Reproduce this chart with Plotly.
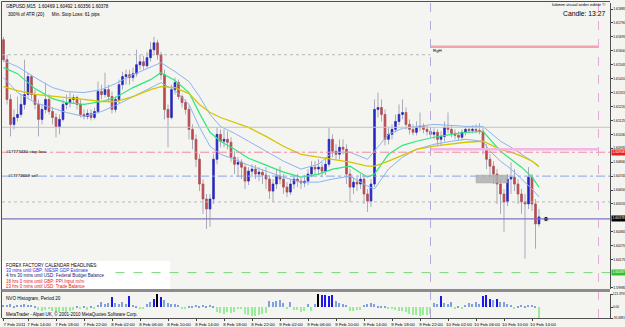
import plotly.graph_objects as go
import pandas as pd

# ---------------- data ----------------
bar_start = "2011-02-07 10:30"
bar_freq = "30min"

open_ = [
    1.61675, 1.61539, 1.61268, 1.61098, 1.61145, 1.61166, 1.61234, 1.61302, 1.61424, 1.61302,
    1.61234, 1.61132, 1.61200, 1.61268, 1.61186, 1.61145, 1.61084, 1.61132, 1.61234, 1.61247,
    1.61268, 1.61281, 1.61234, 1.61166, 1.61152, 1.61173, 1.61145, 1.61186, 1.61322, 1.61302,
    1.61335, 1.61288, 1.61200, 1.61268, 1.61369, 1.61424, 1.61437, 1.61417, 1.61444, 1.61505,
    1.61525, 1.61498, 1.61553, 1.61607, 1.61654, 1.61573, 1.61437, 1.61200, 1.61145, 1.61335,
    1.61383, 1.61288, 1.61247, 1.61200, 1.61064, 1.60996, 1.60860, 1.60691, 1.60589, 1.60521,
    1.60589, 1.60860, 1.61030, 1.60983, 1.60996, 1.60976, 1.60874, 1.60826, 1.60840, 1.60806,
    1.60711, 1.60779, 1.60793, 1.60759, 1.60772, 1.60752, 1.60725, 1.60643, 1.60691, 1.60745,
    1.60725, 1.60670, 1.60636, 1.60691, 1.60725, 1.60711, 1.60698, 1.60711, 1.60759, 1.60806,
    1.60793, 1.60806, 1.60779, 1.60826, 1.60996, 1.60915, 1.60894, 1.60942, 1.60928, 1.60759,
    1.60670, 1.60704, 1.60691, 1.60725, 1.60623, 1.60575, 1.60691, 1.61200, 1.61213, 1.61166,
    1.60996, 1.61030, 1.61064, 1.61118, 1.61166, 1.61179, 1.61098, 1.61064, 1.61044, 1.61078,
    1.61084, 1.61064, 1.61050, 1.61030, 1.61044, 1.60996, 1.61016, 1.61078, 1.61064, 1.61037,
    1.61023, 1.61010, 1.61044, 1.61064, 1.61057, 1.61064, 1.61057, 1.61050, 1.60928, 1.60860,
    1.60813, 1.60759, 1.60691, 1.60623, 1.60569, 1.60725, 1.60738, 1.60691, 1.60623, 1.60569,
    1.60555, 1.60738, 1.60555, 1.60419,
]
high_ = [
    1.61695, 1.61573, 1.61302, 1.61200, 1.61288, 1.61302, 1.61539, 1.61451, 1.61437, 1.61335,
    1.61268, 1.61234, 1.61383, 1.61302, 1.61213, 1.61173, 1.61166, 1.61268, 1.61302, 1.61315,
    1.61302, 1.61295, 1.61268, 1.61200, 1.61200, 1.61200, 1.61213, 1.61390, 1.61369, 1.61451,
    1.61369, 1.61322, 1.61288, 1.61403, 1.61458, 1.61471, 1.61471, 1.61485, 1.61607, 1.61573,
    1.61566, 1.61593, 1.61661, 1.61695, 1.61675, 1.61593, 1.61471, 1.61234, 1.61369, 1.61417,
    1.61403, 1.61302, 1.61268, 1.61227, 1.61098, 1.61030, 1.60894, 1.60725, 1.60623, 1.60623,
    1.60894, 1.61078, 1.61064, 1.61064, 1.61050, 1.61010, 1.60915, 1.60874, 1.60860, 1.60826,
    1.60806, 1.60826, 1.60820, 1.60806, 1.60793, 1.60806, 1.60752, 1.60725, 1.60793, 1.60813,
    1.60759, 1.60704, 1.60725, 1.60752, 1.60759, 1.60738, 1.60752, 1.60793, 1.60847, 1.60847,
    1.60860, 1.60840, 1.60874, 1.61078, 1.61030, 1.60962, 1.60996, 1.60996, 1.60962, 1.60793,
    1.60738, 1.60738, 1.60759, 1.60752, 1.60657, 1.60725, 1.61268, 1.61315, 1.61268, 1.61200,
    1.61078, 1.61098, 1.61166, 1.61234, 1.61268, 1.61213, 1.61132, 1.61098, 1.61118, 1.61179,
    1.61105, 1.61091, 1.61078, 1.61071, 1.61064, 1.61050, 1.61118, 1.61179, 1.61091, 1.61064,
    1.61050, 1.61064, 1.61084, 1.61084, 1.61091, 1.61098, 1.61105, 1.61078, 1.60962, 1.60894,
    1.60847, 1.60793, 1.60725, 1.60657, 1.60759, 1.60840, 1.60793, 1.60725, 1.60657, 1.60623,
    1.60806, 1.60759, 1.60589, 1.60521,
]
low_ = [
    1.61525, 1.61234, 1.61016, 1.61064, 1.61118, 1.61145, 1.61200, 1.61281, 1.61268, 1.61200,
    1.61016, 1.61098, 1.61173, 1.61166, 1.61098, 1.61010, 1.61030, 1.61118, 1.61200, 1.61213,
    1.61240, 1.61200, 1.61145, 1.61132, 1.61132, 1.61125, 1.61132, 1.61173, 1.61268, 1.61281,
    1.61247, 1.61173, 1.61179, 1.61240, 1.61335, 1.61369, 1.61369, 1.61390, 1.61424, 1.61471,
    1.61471, 1.61485, 1.61525, 1.61573, 1.61539, 1.61403, 1.61132, 1.60942, 1.61132, 1.61302,
    1.61268, 1.61213, 1.61166, 1.60996, 1.60928, 1.60806, 1.60643, 1.60487, 1.60385, 1.60399,
    1.60555, 1.60826, 1.60942, 1.60942, 1.60928, 1.60840, 1.60759, 1.60738, 1.60725, 1.60657,
    1.60684, 1.60738, 1.60725, 1.60711, 1.60691, 1.60657, 1.60589, 1.60569, 1.60657, 1.60691,
    1.60623, 1.60603, 1.60616, 1.60657, 1.60670, 1.60657, 1.60670, 1.60684, 1.60738, 1.60752,
    1.60752, 1.60738, 1.60752, 1.60806, 1.60874, 1.60860, 1.60860, 1.60894, 1.60691, 1.60569,
    1.60623, 1.60643, 1.60657, 1.60555, 1.60501, 1.60535, 1.60670, 1.61145, 1.61118, 1.60955,
    1.60962, 1.60996, 1.61044, 1.61091, 1.61132, 1.61064, 1.61030, 1.61023, 1.61023, 1.61050,
    1.61037, 1.61023, 1.61010, 1.60996, 1.60955, 1.60949, 1.60983, 1.61037, 1.61010, 1.60996,
    1.60989, 1.60989, 1.61023, 1.61037, 1.61037, 1.61037, 1.61030, 1.60894, 1.60793, 1.60738,
    1.60691, 1.60555, 1.60487, 1.60365, 1.60541, 1.60623, 1.60643, 1.60555, 1.60487, 1.60182,
    1.60521, 1.60508, 1.60250, 1.60399,
]
close_ = [
    1.61539, 1.61268, 1.61098, 1.61145, 1.61166, 1.61234, 1.61302, 1.61424, 1.61302, 1.61234,
    1.61132, 1.61200, 1.61268, 1.61186, 1.61145, 1.61084, 1.61132, 1.61234, 1.61247, 1.61268,
    1.61281, 1.61234, 1.61166, 1.61152, 1.61173, 1.61145, 1.61186, 1.61322, 1.61302, 1.61335,
    1.61288, 1.61200, 1.61268, 1.61369, 1.61424, 1.61437, 1.61417, 1.61444, 1.61505, 1.61525,
    1.61498, 1.61553, 1.61607, 1.61654, 1.61573, 1.61437, 1.61200, 1.61145, 1.61335, 1.61383,
    1.61288, 1.61247, 1.61200, 1.61064, 1.60996, 1.60860, 1.60691, 1.60589, 1.60521, 1.60589,
    1.60860, 1.61030, 1.60983, 1.60996, 1.60976, 1.60874, 1.60826, 1.60840, 1.60806, 1.60711,
    1.60779, 1.60793, 1.60759, 1.60772, 1.60752, 1.60725, 1.60643, 1.60691, 1.60745, 1.60725,
    1.60670, 1.60636, 1.60691, 1.60725, 1.60711, 1.60698, 1.60711, 1.60759, 1.60806, 1.60793,
    1.60806, 1.60779, 1.60826, 1.60996, 1.60915, 1.60894, 1.60942, 1.60928, 1.60759, 1.60670,
    1.60704, 1.60691, 1.60725, 1.60623, 1.60575, 1.60691, 1.61200, 1.61213, 1.61166, 1.60996,
    1.61030, 1.61064, 1.61118, 1.61166, 1.61179, 1.61098, 1.61064, 1.61044, 1.61078, 1.61084,
    1.61064, 1.61050, 1.61030, 1.61044, 1.60996, 1.61016, 1.61078, 1.61064, 1.61037, 1.61023,
    1.61010, 1.61044, 1.61064, 1.61057, 1.61064, 1.61057, 1.61050, 1.60928, 1.60860, 1.60813,
    1.60759, 1.60691, 1.60623, 1.60569, 1.60725, 1.60738, 1.60691, 1.60623, 1.60569, 1.60555,
    1.60738, 1.60555, 1.60419, 1.60467,
]

# moving averages / bands, sampled at these bar indices
ma_idx = [0, 4, 9, 14, 18, 23, 28, 32, 37, 42, 45, 49, 53, 56, 59, 62, 66, 70, 75, 80,
          85, 90, 94, 99, 104, 106, 110, 114, 118, 123, 128, 132, 137, 139, 142, 145, 148, 151, 153]
ma_slow = [1.61356, 1.61329, 1.61302, 1.61288, 1.61281, 1.61268, 1.61254, 1.61254, 1.61288, 1.61335,
           1.61356, 1.61349, 1.61308, 1.61234, 1.61179, 1.61145, 1.61112, 1.61078, 1.61016, 1.60949,
           1.60894, 1.60874, 1.60860, 1.60840, 1.60813, 1.60813, 1.60847, 1.60888, 1.60928, 1.60949,
           1.60962, 1.60976, 1.60983, 1.60962, 1.60928, 1.60908, 1.60881, 1.60847, 1.60813]
ma_mid = [1.61485, 1.61444, 1.61342, 1.61274, 1.61247, 1.61234, 1.61254, 1.61281, 1.61349, 1.61403,
          1.61451, 1.61397, 1.61315, 1.61173, 1.61044, 1.60983, 1.60928, 1.60867, 1.60820, 1.60772,
          1.60738, 1.60759, 1.60793, 1.60813, 1.60738, 1.60759, 1.60894, 1.60955, 1.60983, 1.61010,
          1.61030, 1.61044, 1.61050, 1.60996, 1.60915, 1.60860, 1.60806, 1.60738, 1.60670]
band_up = [1.61532, 1.61492, 1.61417, 1.61349, 1.61322, 1.61315, 1.61335, 1.61376, 1.61437, 1.61485,
           1.61519, 1.61458, 1.61390, 1.61288, 1.61166, 1.61084, 1.61037, 1.60983, 1.60915, 1.60847,
           1.60793, 1.60826, 1.60908, 1.60908, 1.60860, 1.60915, 1.61030, 1.61071, 1.61084, 1.61098,
           1.61091, 1.61084, 1.61084, 1.61044, 1.60983, 1.60942, 1.60894, 1.60847, 1.60806]
band_dn = [1.61417, 1.61315, 1.61247, 1.61207, 1.61179, 1.61152, 1.61186, 1.61227, 1.61288, 1.61349,
           1.61383, 1.61329, 1.61234, 1.61078, 1.60949, 1.60894, 1.60860, 1.60820, 1.60779, 1.60738,
           1.60704, 1.60704, 1.60725, 1.60745, 1.60677, 1.60657, 1.60793, 1.60874, 1.60928, 1.60962,
           1.60983, 1.60996, 1.60983, 1.60915, 1.60847, 1.60793, 1.60725, 1.60657, 1.60603]

# NVO histogram
nvo = [
    25, 20, 30, 5, 20, 25, 30, 20, 25, 15,
    -20, -30, -25, -10, -35, -45, -40, -30, -45, -35,
    -20, 10, -15, 10, -20, 10, -10, 20, 45, 30,
    40, 95, 40, 30, 45, 35, 100, 20, 15, -15,
    -10, 30, 50, 80, 118, 95, 70, 40, 30, 35,
    25, -10, -15, 5, 15, 20, 10, 20, 15, 25,
    10, -45, -50, -55, -45, -50, -40, -15, -10, -60,
    -70, -75, -80, -70, -60, -50, 60, 45, 55, 70,
    40, -15, 50, -20, -25, -40, -35, 30, -30, 35,
    121.3791, 110, 112, 105, 110, 60, 40, 35, 20, -30,
    -35, -25, -20, 25, 35, 40, 30, 15, 10, 15,
    -15, -10, -25, -30, -35, -45, -55, -65, -70, -75,
    -65, -70, -60, 40, 30, 105, 40, 35, 45, -10,
    15, -10, 20, 40, 35, 45, 30, 100, 110, 80,
    65, 75, 50, 45, 35, 20, -10, 15, 25, 10,
    20, 25, 15, -95.6891,
]
nvo_min, nvo_max = -95.6891, 121.3791

# axes (tick labels hidden behind the price boxes are left out)
price_ticks = [1.59985, 1.60175, 1.60270, 1.60365, 1.60555, 1.60650, 1.60745,
               1.60840, 1.60935, 1.61030, 1.61125, 1.61220, 1.61315, 1.61410, 1.61505, 1.61600,
               1.61695, 1.61790, 1.61885]
price_range = [1.59975, 1.61926]
time_range = ["2011-02-07 10:17:09", "2011-02-11 01:08:34"]
time_ticks = ["2011-02-07 10:30", "2011-02-07 14:00", "2011-02-07 18:00", "2011-02-07 22:00",
              "2011-02-08 02:00", "2011-02-08 06:00", "2011-02-08 10:00", "2011-02-08 14:00",
              "2011-02-08 18:00", "2011-02-08 22:00", "2011-02-09 02:00", "2011-02-09 06:00",
              "2011-02-09 10:00", "2011-02-09 14:00", "2011-02-09 18:00", "2011-02-09 22:00",
              "2011-02-10 02:00", "2011-02-10 06:00", "2011-02-10 10:00", "2011-02-10 14:00"]
time_labels = ["7 Feb 2011", "7 Feb 14:00", "7 Feb 18:00", "7 Feb 22:00", "8 Feb 02:00",
               "8 Feb 06:00", "8 Feb 10:00", "8 Feb 14:00", "8 Feb 18:00", "8 Feb 22:00",
               "9 Feb 02:00", "9 Feb 06:00", "9 Feb 10:00", "9 Feb 14:00", "9 Feb 18:00",
               "9 Feb 22:00", "10 Feb 02:00", "10 Feb 06:00", "10 Feb 10:00", "10 Feb 14:00"]

# order / level lines
sl_price = 1.60908
sell_price = 1.60745
tp_price = 1.60087
bid_price = 1.60453
level_solid = 1.61078
level_dot_hi = 1.61573
level_dot_lo = 1.60569
rgh_price = 1.61627
pink_price = 1.60928
day_lines = ["2011-02-09 23:30", "2011-02-10 23:30"]
tp_start = "2011-02-08 02:30"
box_times = ["2011-02-10 06:00", "2011-02-10 10:30"]
box_prices = [1.60698, 1.60752]
marker_time = "2011-02-10 16:00"

header = "GBPUSD,M15  1.60469 1.60492 1.60356 1.60378"
atr_text = "300% of ATR (20)      Min. Stop Loss: 61 pips"
bid_label = "1.60378"
calendar_lines = [
    ("FOREX FACTORY CALENDAR HEADLINES:", "#000000"),
    ("33 mins until GBP: NIESR GDP Estimate", "#2a2ad8"),
    ("4 hrs 30 mins until USD: Federal Budget Balance", "#20206a"),
    ("18 hrs 0 mins until GBP: PPI Input m/m", "#e02020"),
    ("23 hrs 0 mins until USD: Trade Balance", "#e02020"),
]

# ---------------- figure ----------------
W, H = 625, 327
def PX(x): return x / W
def PY(y): return 1 - y / H

bar_times = pd.date_range(bar_start, periods=len(close_), freq=bar_freq)
ma_times = [bar_times[i] for i in ma_idx]

FONT = "Liberation Sans"
BG = "#f4f4f1"
fig = go.Figure()

# wicks
fig.add_trace(go.Candlestick(
    x=bar_times, open=open_, high=high_, low=low_, close=close_,
    increasing=dict(line=dict(color="#a9a9b9", width=1), fillcolor="#a9a9b9"),
    decreasing=dict(line=dict(color="#a9a9b9", width=1), fillcolor="#a9a9b9"),
    whiskerwidth=0, showlegend=False, hoverinfo="skip", xaxis="x", yaxis="y"))
# bodies
body_hi = [max(o, c) for o, c in zip(open_, close_)]
body_lo = [min(o, c) for o, c in zip(open_, close_)]
fig.add_trace(go.Candlestick(
    x=bar_times, open=open_, high=body_hi, low=body_lo, close=close_,
    increasing=dict(line=dict(color="#2424c8", width=0.6), fillcolor="#2424c8"),
    decreasing=dict(line=dict(color="#c04848", width=0.6), fillcolor="#c04848"),
    whiskerwidth=0, showlegend=False, hoverinfo="skip", xaxis="x", yaxis="y"))

for vals, col, w in [(band_up, "#8cb4f0", 1), (band_dn, "#8cb4f0", 1),
                     (ma_mid, "#2ee87c", 1.2), (ma_slow, "#d6c600", 1.3)]:
    fig.add_trace(go.Scatter(x=ma_times, y=vals, mode="lines",
                             line=dict(color=col, width=w), showlegend=False,
                             hoverinfo="skip", xaxis="x", yaxis="y"))

# marker at current price
fig.add_trace(go.Scatter(x=[marker_time], y=[bid_price], mode="markers",
                         marker=dict(color="black", size=5, line=dict(color="white", width=1)),
                         showlegend=False, hoverinfo="skip", xaxis="x", yaxis="y"))

# histogram
def nvo_color(v):
    if v >= 115:
        return "#000000"
    if v >= 75:
        return "#1818e8"
    if v > 0:
        return "#7fa2dc"
    return "#98ee98"

fig.add_trace(go.Bar(x=bar_times, y=nvo, marker=dict(color=[nvo_color(v) for v in nvo], line=dict(width=0)),
                     width=1000000, showlegend=False, hoverinfo="skip", xaxis="x2", yaxis="y2"))

X0, X1 = PX(2), PX(610)
shapes = []
# calendar white box
shapes.append(dict(type="rect", xref="paper", yref="paper", x0=PX(2), x1=PX(170), y0=PY(289), y1=PY(261),
                   fillcolor="white", line=dict(width=0), layer="below"))

def hline(y, color, width=1, dash="solid", xa=X0, xb=X1, xref="paper"):
    shapes.append(dict(type="line", xref=xref, yref="y", x0=xa, x1=xb, y0=y, y1=y,
                       line=dict(color=color, width=width, dash=dash)))

hline(level_solid, "#c4c4c4", 1)
hline(level_dot_lo, "#b8b8b8", 1, "dot")
hline(level_dot_hi, "#b8b8b8", 1, "dot", time_range[0], day_lines[0], "x")
hline(sl_price, "#f08ca0", 1, "dashdot")
hline(sell_price, "#8aa6e8", 1, "dashdot")
hline(bid_price, "#7c74b8", 1.2)
hline(tp_price, "#7cd87c", 1, "dash", tp_start, time_range[1], "x")
hline(rgh_price, "#f4a4a8", 2.5, "solid", day_lines[0], day_lines[1], "x")
hline(pink_price, "#f4b4e4", 2.5, "solid", day_lines[0], day_lines[1], "x")
# vertical day lines
for t, col in zip(day_lines, ["#b8a8e0", "#e8a8d8"]):
    shapes.append(dict(type="line", xref="x", yref="paper", x0=t, x1=t, y0=PY(318), y1=PY(3),
                       line=dict(color=col, width=1, dash="dash")))
# gray box
shapes.append(dict(type="rect", xref="x", yref="y", x0=box_times[0], x1=box_times[1],
                   y0=box_prices[0], y1=box_prices[1], fillcolor="#b0b0b0",
                   line=dict(color="#a0a0a0", width=0.5), opacity=0.85))
# frame
shapes.append(dict(type="line", xref="paper", yref="paper", x0=PX(1.5), x1=PX(1.5), y0=PY(318), y1=PY(1.5),
                   line=dict(color="#505050", width=1)))
shapes.append(dict(type="line", xref="paper", yref="paper", x0=PX(1.5), x1=PX(610), y0=PY(1.5), y1=PY(1.5),
                   line=dict(color="#505050", width=1)))
shapes.append(dict(type="rect", xref="paper", yref="paper", x0=PX(1.5), x1=PX(610), y0=PY(292), y1=PY(289),
                   fillcolor="#8c8c8c", line=dict(width=0)))

ann = []
def text(x, y, s, size=4.6, color="black", anchor="left"):
    ann.append(dict(xref="paper", yref="paper", x=PX(x), y=PY(y), text=s, showarrow=False,
                    xanchor=anchor, yanchor="middle", font=dict(family=FONT, size=size, color=color)))

text(4, 6, header)
text(6, 14, atr_text)
text(608, 5, "lukmm visual order editor ©", 4.4, anchor="right")
text(608, 13, "Candle: 13:27", 6.8, anchor="right")
text(431, 51, "RgH", 4.4)
text(4, 151, "#17773430 stop loss", 4.4)
text(6, 175, "#17773659 sell", 4.4)
for k, (s, c) in enumerate(calendar_lines):
    text(4, 265 + 5.4 * k, s, 4.5, c)
text(4, 298, "NVO Histogram, Period 20", 4.6)
text(4, 314, "MetaTrader - Alpari UK, © 2001-2010 MetaQuotes Software Corp.", 4.5)

# axis price boxes
def price_box(p, s, bg):
    ann.append(dict(xref="paper", yref="y", x=PX(610.5), y=p, text=s, showarrow=False,
                    xanchor="left", yanchor="middle", bgcolor=bg, borderpad=0.4,
                    font=dict(family=FONT, size=3.4, color="white")))

price_box(sl_price, f"{sl_price:.5f}", "#e82020")
price_box(bid_price, bid_label, "#000000")
price_box(tp_price, f"{tp_price:.5f}", "#30c030")

tickfont = dict(family=FONT, size=3.4, color="black")
tickfont2 = dict(family=FONT, size=3.0, color="black")
common = dict(showgrid=False, zeroline=False, automargin=False)
fig.update_layout(
    width=W, height=H, margin=dict(l=0, r=0, t=0, b=0, autoexpand=False), autosize=False,
    paper_bgcolor=BG, plot_bgcolor=BG, showlegend=False, boxgap=0.35,
    xaxis=dict(domain=[X0, X1], range=time_range, type="date", anchor="y",
               showticklabels=False, showline=False,
               rangeslider=dict(visible=False), fixedrange=True, **common),
    yaxis=dict(domain=[PY(289), PY(3)], range=price_range, side="right", anchor="x",
               tickvals=price_ticks, ticktext=[f"{v:.5f}" for v in price_ticks],
               ticks="outside", ticklen=1.5, tickcolor="#404040", tickfont=tickfont,
               showline=True, linecolor="#505050", linewidth=1, **common),
    xaxis2=dict(domain=[X0, X1], range=time_range, type="date", anchor="y2",
                tickvals=time_ticks, ticktext=time_labels, ticks="outside", ticklen=2,
                tickcolor="#404040", tickfont=dict(family=FONT, size=4.4, color="black"),
                ticklabelshift=11, tickangle=0,
                showline=True, linecolor="#505050", linewidth=1, **common),
    yaxis2=dict(domain=[PY(318), PY(294)], range=[nvo_min, nvo_max], side="right", anchor="x2",
                tickvals=[nvo_min, 0, nvo_max], ticktext=[f"{nvo_min:.4f}", "0.00", f"{nvo_max:.4f}"],
                ticks="outside", ticklen=1.5, tickcolor="#404040", tickfont=tickfont2,
                showline=True, linecolor="#505050", linewidth=1, **common),
    shapes=shapes, annotations=ann, bargap=0,
)

fig.write_html("out.html")
